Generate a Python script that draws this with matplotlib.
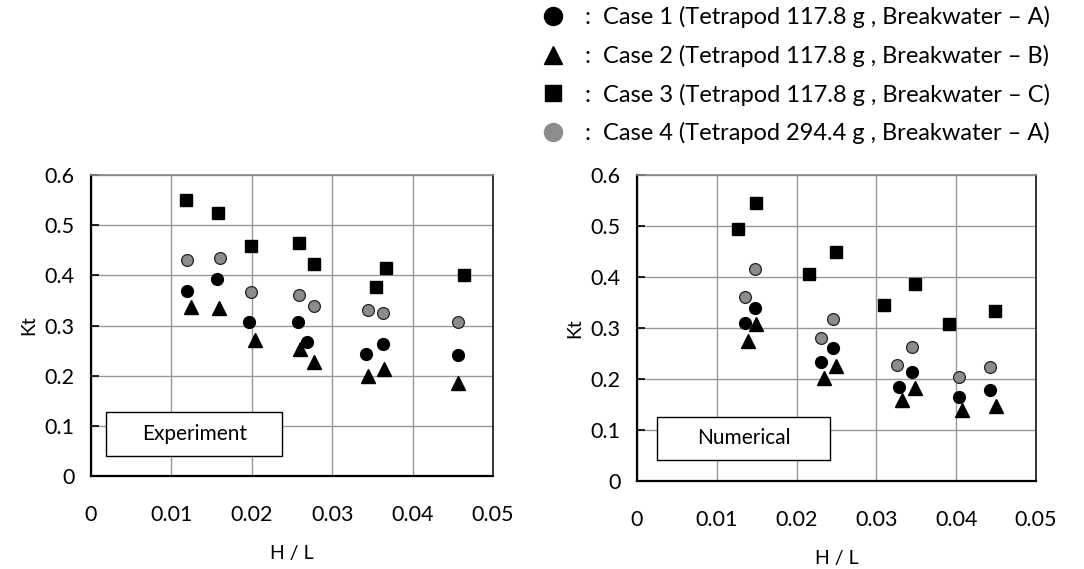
import matplotlib
matplotlib.use("Agg")
import matplotlib.pyplot as plt
from matplotlib.patches import Rectangle
from matplotlib.lines import Line2D

plt.rcParams['font.family'] = ['Lato', 'DejaVu Sans']

# Experiment
exp_c1_x = [0.0120, 0.0157, 0.0197, 0.0258, 0.0269, 0.0342, 0.0363, 0.0456]
exp_c1_y = [0.369, 0.393, 0.308, 0.308, 0.268, 0.243, 0.263, 0.241]
exp_c2_x = [0.0125, 0.0159, 0.0204, 0.0260, 0.0278, 0.0344, 0.0365, 0.0456]
exp_c2_y = [0.336, 0.334, 0.271, 0.254, 0.228, 0.199, 0.213, 0.185]
exp_c3_x = [0.0118, 0.0158, 0.0199, 0.0259, 0.0277, 0.0355, 0.0367, 0.0464]
exp_c3_y = [0.550, 0.525, 0.459, 0.465, 0.422, 0.377, 0.414, 0.401]
exp_c4_x = [0.0120, 0.0160, 0.0199, 0.0259, 0.0277, 0.0345, 0.0363, 0.0456]
exp_c4_y = [0.430, 0.434, 0.366, 0.361, 0.338, 0.331, 0.324, 0.308]

# Numerical
num_c1_x = [0.0136, 0.0148, 0.0231, 0.0246, 0.0328, 0.0345, 0.0404, 0.0442]
num_c1_y = [0.310, 0.340, 0.233, 0.260, 0.185, 0.213, 0.164, 0.178]
num_c2_x = [0.0139, 0.0149, 0.0235, 0.0249, 0.0332, 0.0349, 0.0407, 0.0450]
num_c2_y = [0.275, 0.308, 0.201, 0.226, 0.158, 0.182, 0.139, 0.148]
num_c3_x = [0.0127, 0.0149, 0.0215, 0.0249, 0.0310, 0.0349, 0.0391, 0.0449]
num_c3_y = [0.494, 0.546, 0.406, 0.450, 0.345, 0.387, 0.308, 0.334]
num_c4_x = [0.0135, 0.0148, 0.0230, 0.0246, 0.0326, 0.0345, 0.0403, 0.0442]
num_c4_y = [0.360, 0.415, 0.281, 0.318, 0.228, 0.263, 0.2035, 0.224]

labels = ['Case 1 (Tetrapod 117.8 g , Breakwater \u2013 A)',
          'Case 2 (Tetrapod 117.8 g , Breakwater \u2013 B)',
          'Case 3 (Tetrapod 117.8 g , Breakwater \u2013 C)',
          'Case 4 (Tetrapod 294.4 g , Breakwater \u2013 A)']
xticks = [0, 0.01, 0.02, 0.03, 0.04, 0.05]
xticklabels = ['0', '0.01', '0.02', '0.03', '0.04', '0.05']
yticks = [0, 0.1, 0.2, 0.3, 0.4, 0.5, 0.6]
yticklabels = ['0', '0.1', '0.2', '0.3', '0.4', '0.5', '0.6']

GRAY = '#8c8c8c'
styles = [dict(marker='o', color='black', ms=8.5),
          dict(marker='^', color='black', ms=9.5),
          dict(marker='s', color='black', ms=8.5),
          dict(marker='o', color=GRAY, ms=8.5, mec='#222222', mew=0.9)]

fig = plt.figure(figsize=(10.84, 5.69), dpi=100)
ax1 = fig.add_axes([0.0839, 0.1634, 0.3709, 0.529])
ax2 = fig.add_axes([0.5876, 0.1547, 0.3681, 0.5377])


def panel(ax, data, name, box):
    for (xs, ys), st in zip(data, styles):
        kw = dict(st)
        ax.plot(xs, ys, ls='none', marker=kw.pop('marker'), color=kw.pop('color'),
                ms=kw.pop('ms'), **kw, zorder=3)
    ax.set_xlim(0, 0.05)
    ax.set_ylim(0, 0.6)
    ax.set_xticks(xticks)
    ax.set_xticklabels(xticklabels)
    ax.set_yticks(yticks)
    ax.set_yticklabels(yticklabels)
    ax.grid(True, color='#999999', lw=1.0)
    ax.set_axisbelow(True)
    ax.tick_params(axis='x', length=0, pad=21, labelsize=15.5)
    ax.tick_params(axis='y', direction='in', length=6, width=1.2, pad=12, labelsize=15.5)
    ax.spines['left'].set_linewidth(1.6)
    ax.spines['bottom'].set_linewidth(1.6)
    ax.spines['top'].set_color('#888888')
    ax.spines['top'].set_linewidth(1.2)
    ax.spines['right'].set_color('#333333')
    ax.spines['right'].set_linewidth(1.4)
    ax.set_xlabel('H / L', fontsize=14, labelpad=14)
    ax.set_ylabel('Kt', fontsize=14, labelpad=5)
    x0, y0, x1, y1 = box
    ax.add_patch(Rectangle((x0, y0), x1 - x0, y1 - y0, fc='white', ec='black',
                           lw=1.0, zorder=4))
    ax.text((x0 + x1) / 2, (y0 + y1) / 2, name, ha='center', va='center',
            fontsize=15, zorder=5)


panel(ax1, [(exp_c1_x, exp_c1_y), (exp_c2_x, exp_c2_y),
            (exp_c3_x, exp_c3_y), (exp_c4_x, exp_c4_y)],
      'Experiment', (0.0019, 0.040, 0.0238, 0.128))
panel(ax2, [(num_c1_x, num_c1_y), (num_c2_x, num_c2_y),
            (num_c3_x, num_c3_y), (num_c4_x, num_c4_y)],
      'Numerical', (0.0025, 0.041, 0.0242, 0.126))

handles = [Line2D([], [], ls='none', marker='o', color='black', ms=13),
           Line2D([], [], ls='none', marker='^', color='black', ms=13),
           Line2D([], [], ls='none', marker='s', color='black', ms=12),
           Line2D([], [], ls='none', marker='o', color=GRAY, ms=13)]
fig.legend(handles, [':  ' + l for l in labels], loc='upper left',
           bbox_to_anchor=(0.497, 0.989), frameon=False, fontsize=17,
           borderaxespad=0, borderpad=0,
           handletextpad=0.75, labelspacing=0.7, handlelength=1.2)

fig.savefig('out.png', dpi=100)
